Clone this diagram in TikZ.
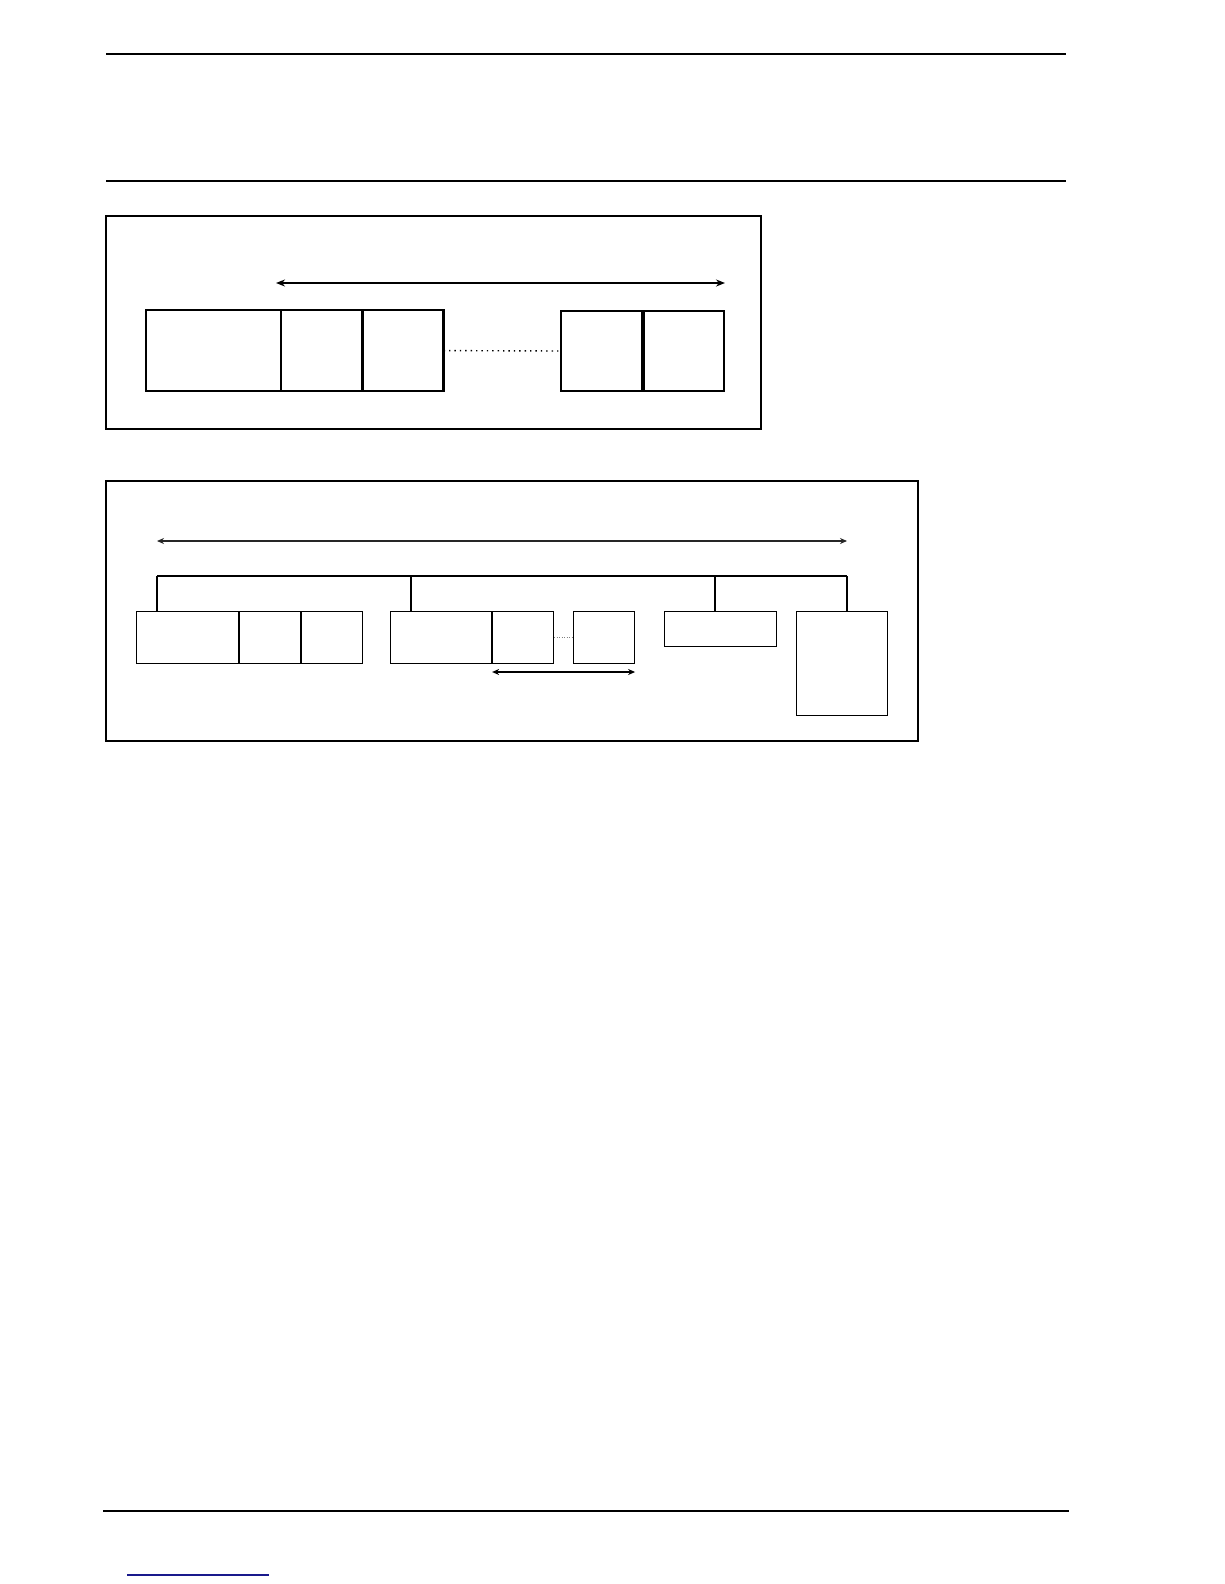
\documentclass[tikz,border=0pt]{standalone}
\usetikzlibrary{arrows.meta,positioning}
\definecolor{linkblue}{RGB}{25,25,140}
\begin{document}
\begin{tikzpicture}[x=1pt,y=-1pt,
		cell/.style={draw, line width=1.2pt, inner sep=0pt, anchor=north west, minimum height=80pt},
		slot/.style={draw, line width=1.1pt, inner sep=0pt, anchor=north west},
		span/.style={{Stealth[length=9pt,width=7pt]}-{Stealth[length=9pt,width=7pt]}}]
		\useasboundingbox (0, 0) rectangle (1224, 1584);

		% header rules
		\draw[line width=1.8pt] (106, 54) -- (1066, 54);
		\draw[line width=1.8pt] (106, 181) -- (1066, 181);

		% first frame
		\draw[line width=1.8pt] (106, 216) rectangle (761, 429);
		\node[cell, minimum width=134pt] (a1) at (146, 310) {};
		\node[cell, minimum width=80pt] (a2) at (a1.north east) {};
		\node[cell, minimum width=80pt] (a3) at (a2.north east) {};
		\node[cell, line width=2pt, minimum width=81pt] (a4) at (560, 310) {};
		\node[cell, line width=2pt, minimum width=80pt] (a5) at (a4.north east) {};
		\draw[line width=2pt] (a1.north west) rectangle (a3.south east);
		\draw[dash pattern=on 1.4pt off 4pt, line width=1.4pt] (a3.east) -- (a4.west);
		\coordinate (topL) at (276, 283);
		\coordinate (topR) at (a5.north east |- topL);
		\draw[span, line width=2.2pt] (topL) -- (topR);

		% second frame
		\draw[line width=1.3pt] (106, 481) rectangle (918, 741);
		\node[slot, minimum width=102pt, minimum height=52pt] (b1) at (136, 611) {};
		\node[slot, minimum width=61pt, minimum height=52pt] (b2) at (b1.north east) {};
		\node[slot, minimum width=61pt, minimum height=52pt] (b3) at (b2.north east) {};
		\node[slot, minimum width=101pt, minimum height=52pt] (c1) at (390, 611) {};
		\node[slot, minimum width=61pt, minimum height=52pt] (c2) at (c1.north east) {};
		\node[slot, minimum width=61pt, minimum height=52pt] (c3) at (573, 611) {};
		\node[slot, minimum width=112pt, minimum height=35pt] (d1) at (664, 611) {};
		\node[slot, minimum width=91pt, minimum height=104pt] (e1) at (796, 611) {};
		\draw[dash pattern=on 1pt off 1.5pt, gray, line width=1pt] (c2.east) -- (c3.west);

		% tree above the slots
		\coordinate (barL) at (157, 576);
		\coordinate (barM) at (411, 576);
		\coordinate (barN) at (715, 576);
		\coordinate (barR) at (847, 576);
		\draw[line width=1.3pt] (barL) -- (barR);
		\draw[line width=1.3pt] (barL) -- (barL |- b1.north);
		\draw[line width=1.3pt] (barM) -- (barM |- c1.north);
		\draw[line width=1.3pt] (barN) -- (barN |- d1.north);
		\draw[line width=1.3pt] (barR) -- (barR |- e1.north);

		\coordinate (longL) at (157, 541);
		\coordinate (longR) at (847, 541);
		\draw[{Stealth[length=7pt,width=6pt]}-{Stealth[length=7pt,width=6pt]}, line width=1.2pt, black!85] (longL) -- (longR);
		\coordinate (shortL) at (c2.south west |- 0, 672);
		\coordinate (shortR) at (c3.south east |- 0, 672);
		\draw[{Stealth[length=7pt,width=6pt]}-{Stealth[length=7pt,width=6pt]}, line width=1.3pt] (shortL) -- (shortR);

		% footer
		\draw[line width=1.8pt] (103, 1511) -- (1069, 1511);
		\draw[linkblue, line width=1.4pt] (127, 1575) -- (269, 1575);
	\end{tikzpicture}
\end{document}
